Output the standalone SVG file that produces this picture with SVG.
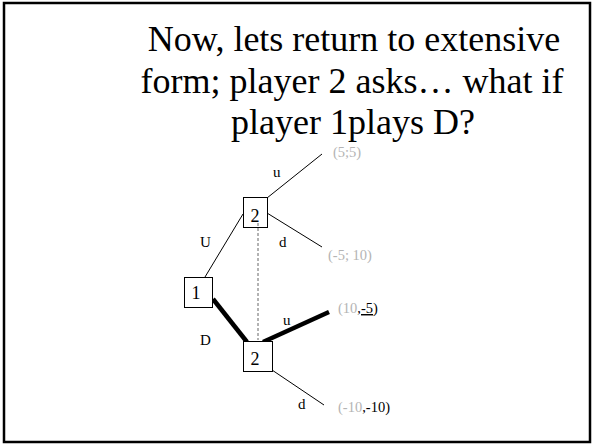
<svg xmlns="http://www.w3.org/2000/svg" width="592" height="444" viewBox="0 0 592 444">
<style>
.title{font-family:"Liberation Serif","Times New Roman",serif;font-size:36px;fill:#000;text-anchor:middle}
.lbl{font-family:"Liberation Serif","Times New Roman",serif;font-size:15px;fill:#000}
.num{font-family:"Liberation Serif","Times New Roman",serif;font-size:18px;fill:#000;text-anchor:middle}
.pay{font-family:"Liberation Serif","Times New Roman",serif;font-size:14.5px;fill:#b4b4b4}
.blk{fill:#000}
.box{fill:#fff;stroke:#000;stroke-width:1}
.thin{stroke:#000;stroke-width:1;fill:none}
.thick{stroke:#000;stroke-width:4.5;fill:none}
.dash{stroke:#666;stroke-width:1;stroke-dasharray:3,2;fill:none}
</style>
<rect x="4" y="3" width="586" height="439" fill="#fff" stroke="#000" stroke-width="2.5"/>
<g id="title">
<text class="title" x="354" y="51">Now, lets return to extensive</text>
<text class="title" x="352" y="93">form; player 2 asks… what if</text>
<text class="title" x="353" y="134">player 1plays D?</text>
</g>
<g id="connectors">
<line class="thin" x1="267" y1="198" x2="322" y2="154"/>
<line class="thin" x1="267" y1="213" x2="322" y2="247"/>
<line class="thin" x1="243" y1="214" x2="205" y2="277"/>
<line class="dash" x1="258" y1="223" x2="258" y2="340"/>
<line class="thick" x1="213" y1="299" x2="247" y2="342"/>
<line class="thick" x1="263" y1="342" x2="329" y2="312"/>
<line class="thin" x1="272" y1="370" x2="324" y2="405"/>
<text class="lbl" x="273" y="177">u</text>
<text class="lbl" x="279" y="247">d</text>
<text class="lbl" x="200" y="247">U</text>
<text class="lbl" x="200" y="345">D</text>
<text class="lbl" x="283" y="325">u</text>
<text class="lbl" x="298" y="409">d</text>
</g>
<g id="node-p2-top">
<rect class="box" x="243.5" y="197.5" width="24" height="30"/>
<line class="dash" x1="258" y1="223" x2="258" y2="228"/>
<text class="num" x="255" y="222">2</text>
</g>
<g id="node-p1">
<rect class="box" x="184.5" y="277.5" width="28" height="30"/>
<text class="num" x="196" y="299">1</text>
</g>
<g id="node-p2-bottom">
<rect class="box" x="243.5" y="341.5" width="29" height="30"/>
<text class="num" x="255" y="365">2</text>
</g>
<g id="payoffs">
<text class="pay" x="333" y="157">(5;5)</text>
<text class="pay" x="328" y="260">(-5; 10)</text>
<text class="pay" x="338" y="313">(10<tspan class="blk" text-decoration="underline">,-5</tspan><tspan class="blk">)</tspan></text>
<text class="pay" x="338" y="412">(-10<tspan class="blk">,-10)</tspan></text>
</g>
</svg>
